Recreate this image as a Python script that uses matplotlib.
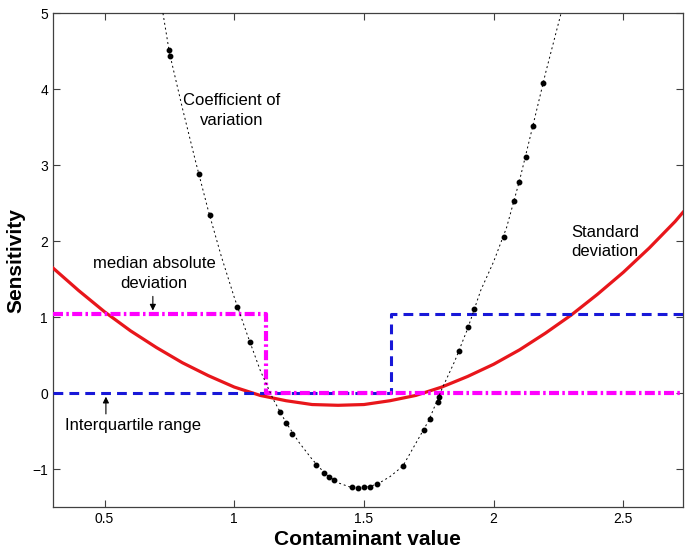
import numpy as np
import matplotlib
matplotlib.use('Agg')
import matplotlib.pyplot as plt

plt.rcParams['font.family'] = ['Liberation Sans', 'DejaVu Sans']

# standard deviation (red solid)
sd_x = [0.30, 0.40, 0.50, 0.60, 0.70, 0.80, 0.90, 1.00, 1.10, 1.20, 1.30, 1.40,
        1.50, 1.60, 1.70, 1.80, 1.90, 2.00, 2.10, 2.20, 2.30, 2.40, 2.50, 2.60,
        2.70, 2.73]
sd_y = [1.65, 1.35, 1.07, 0.82, 0.60, 0.40, 0.23, 0.08, -0.03, -0.10, -0.15, -0.16,
        -0.15, -0.10, -0.03, 0.08, 0.22, 0.38, 0.57, 0.79, 1.03, 1.30, 1.59, 1.91,
        2.26, 2.38]

# coefficient of variation (black dotted)
cv_x = [0.70, 0.725, 0.75, 0.80, 0.85, 0.90, 0.95, 1.00, 1.05, 1.10, 1.15, 1.20,
        1.25, 1.30, 1.35, 1.40, 1.45, 1.50, 1.55, 1.60, 1.65, 1.70, 1.75, 1.80,
        1.85, 1.90, 1.95, 2.00, 2.05, 2.10, 2.15, 2.20, 2.26, 2.28]
cv_y = [5.40, 5.00, 4.48, 3.75, 3.06, 2.40, 1.80, 1.26, 0.77, 0.30, -0.08, -0.39,
        -0.65, -0.87, -1.06, -1.18, -1.24, -1.245, -1.20, -1.10, -0.96, -0.66, -0.36, 0.05,
        0.42, 0.85, 1.35, 1.73, 2.18, 2.80, 3.50, 4.21, 5.00, 5.30]
cv_dot_x = [0.748, 0.753, 0.863, 0.905, 1.012, 1.060, 1.176, 1.200, 1.224, 1.314,
            1.347, 1.365, 1.385, 1.453, 1.478, 1.502, 1.525, 1.551, 1.649, 1.730,
            1.754, 1.785, 1.790, 1.868, 1.902, 1.925, 2.040, 2.079, 2.098, 2.123,
            2.151, 2.191]
cv_dot_y = [4.51, 4.44, 2.89, 2.34, 1.13, 0.67, -0.25, -0.39, -0.54, -0.94,
            -1.05, -1.105, -1.145, -1.24, -1.25, -1.24, -1.23, -1.20, -0.96, -0.48,
            -0.34, -0.12, -0.05, 0.56, 0.87, 1.105, 2.06, 2.53, 2.78, 3.11,
            3.51, 4.08]

# median absolute deviation (magenta dash-dot)
mad_x = [0.30, 1.122, 1.122, 2.73]
mad_y = [1.04, 1.04, 0.0, 0.0]

# interquartile range (blue dashed)
iqr_x = [0.30, 1.605, 1.605, 2.73]
iqr_y = [0.0, 0.0, 1.04, 1.04]

fig = plt.figure(figsize=(6.85, 5.53), dpi=100)
ax = fig.add_axes([0.077, 0.083, 0.92, 0.893])

ax.plot(sd_x, sd_y, color='#e8161b', lw=2.3, zorder=3)
ax.plot(iqr_x, iqr_y, color='#1818d8', lw=2.2, ls=(0, (3.2, 2.0)), zorder=4)
ax.plot(mad_x, mad_y, color='#ff00ff', lw=3.0, ls=(0, (2.4, 0.8, 0.6, 0.8)), zorder=5)
ax.plot(cv_x, cv_y, color='black', lw=0.7, ls=(0, (2, 3)), zorder=6)
ax.plot(cv_dot_x, cv_dot_y, 'o', color='black', ms=3.2, zorder=7)

tf = dict(fontsize=12, ha='center', va='center')
ax.text(0.99, 3.85, 'Coefficient of', **tf)
ax.text(0.99, 3.59, 'variation', **tf)
ax.text(2.43, 2.11, 'Standard', **tf)
ax.text(2.43, 1.86, 'deviation', **tf)
ax.text(0.69, 1.70, 'median absolute', **tf)
ax.text(0.69, 1.44, 'deviation', **tf)
ax.annotate('', xy=(0.686, 1.05), xytext=(0.686, 1.31),
            arrowprops=dict(arrowstyle='-|>', color='black', lw=0.8, mutation_scale=9))
ax.text(0.61, -0.43, 'Interquartile range', **tf)
ax.annotate('', xy=(0.505, -0.01), xytext=(0.505, -0.31),
            arrowprops=dict(arrowstyle='-|>', color='black', lw=0.8, mutation_scale=9))

ax.set_xlim(0.3, 2.73)
ax.set_ylim(-1.5, 5)
ax.set_xticks([0.5, 1, 1.5, 2, 2.5])
ax.set_xticklabels(['0.5', '1', '1.5', '2', '2.5'])
ax.set_yticks([-1, 0, 1, 2, 3, 4, 5])
ax.set_yticklabels(['\u22121', '0', '1', '2', '3', '4', '5'])
ax.tick_params(direction='in', top=True, right=True, length=5, width=0.8,
               labelsize=10, color='#404040')
for s in ax.spines.values():
    s.set_linewidth(0.9)
    s.set_color('#404040')

ax.set_xlabel('Contaminant value', fontsize=15, fontweight='bold', labelpad=3)
ax.set_ylabel('Sensitivity', fontsize=15, fontweight='bold', labelpad=5)

fig.savefig('out.png', dpi=100)
